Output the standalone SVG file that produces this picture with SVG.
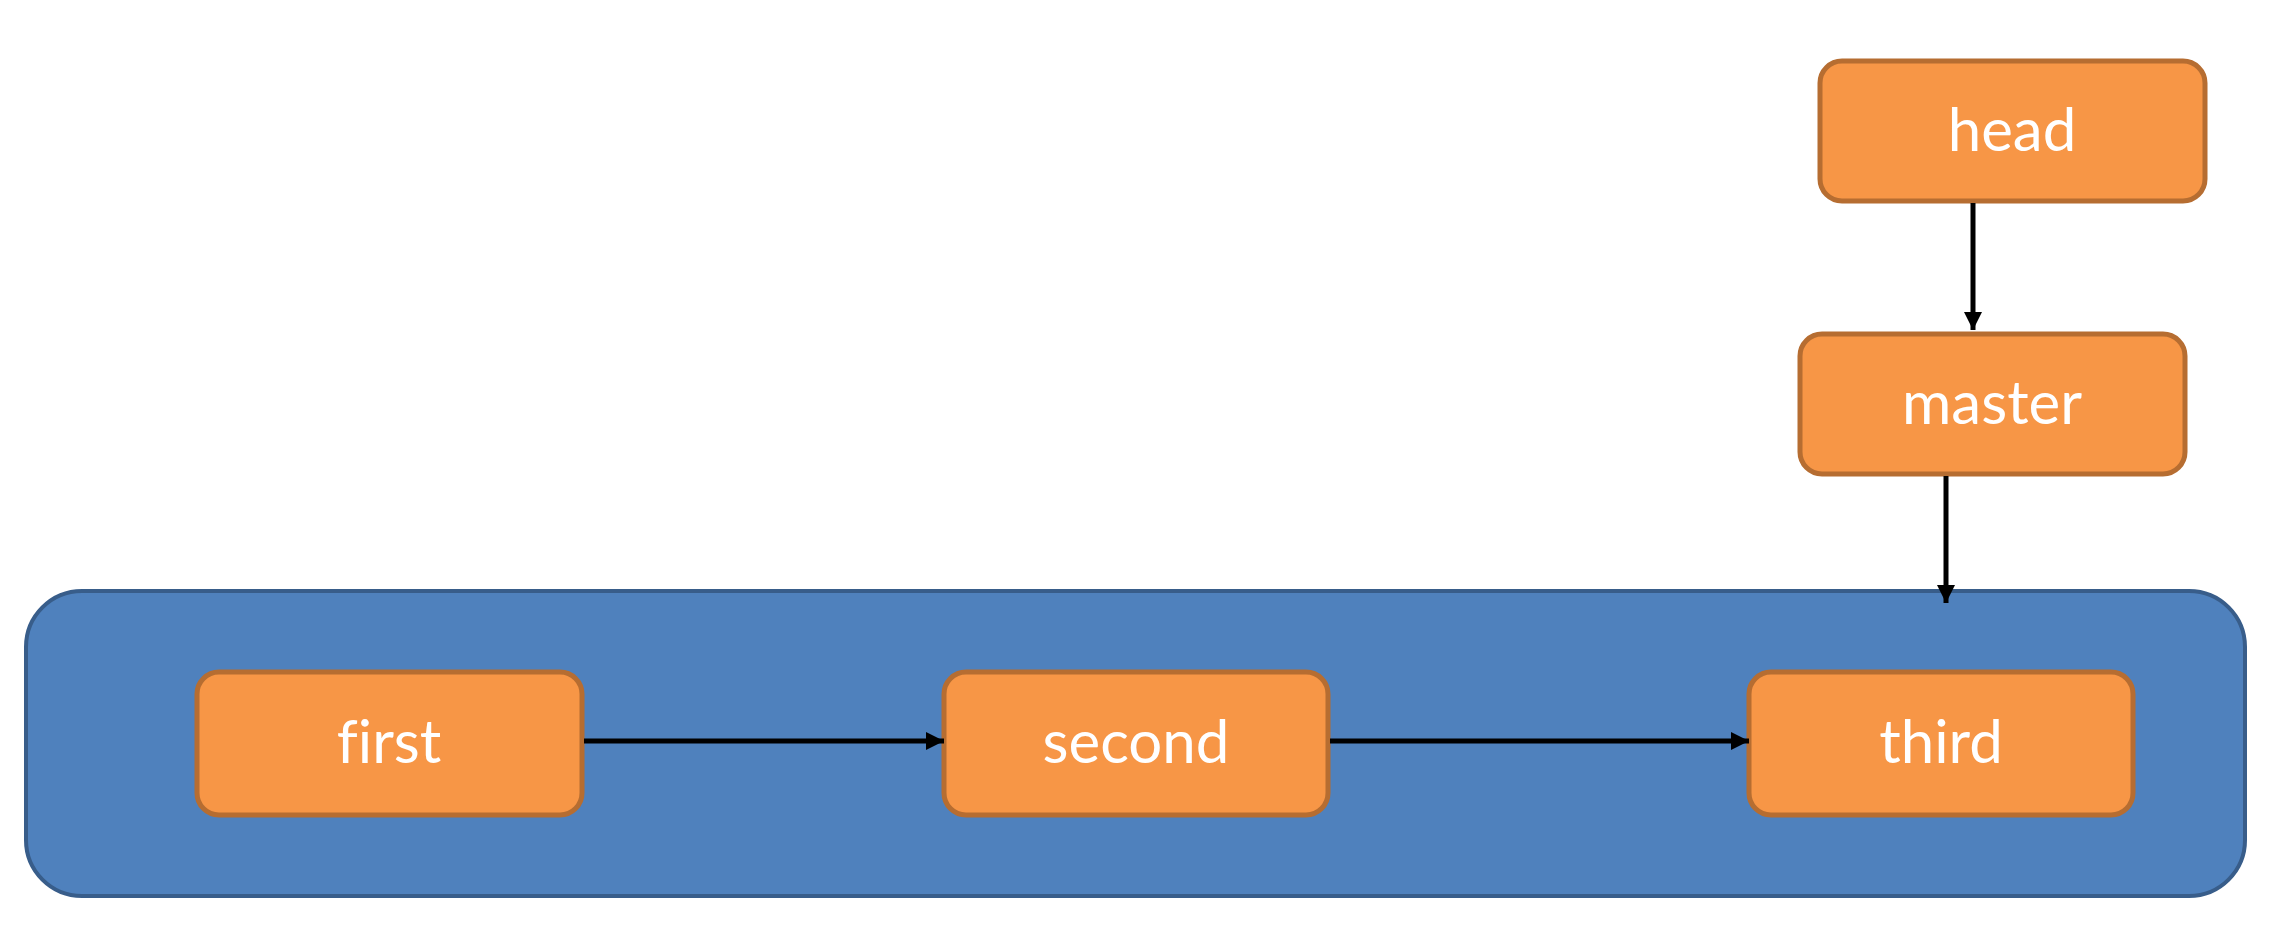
<svg xmlns="http://www.w3.org/2000/svg" width="2275" height="930" viewBox="0 0 2275 930">
<style>
.box{fill:#F79646;stroke:#B66D31;stroke-width:5}
.lbl{fill:#ffffff;font-family:Lato,"Open Sans","Liberation Sans",sans-serif;font-size:60px;text-anchor:middle;font-variant-ligatures:none;font-feature-settings:"liga" 0}
.con{stroke:#000;stroke-width:5;fill:none;marker-end:url(#ah)}
</style>
<defs>
<marker id="ah" viewBox="0 0 10 10" refX="10" refY="5" markerWidth="3.6" markerHeight="4" orient="auto" markerUnits="strokeWidth">
<path d="M0,0 L10,5 L0,10 z" fill="#000"/>
</marker>
</defs>
<rect width="2275" height="930" fill="#ffffff"/>
<g id="container">
<rect x="26" y="591" width="2219" height="305" rx="56" ry="56" fill="#4F81BD" stroke="#385D8A" stroke-width="4"/>
</g>
<g id="head">
<rect class="box" x="1820" y="61" width="385" height="140" rx="22"/>
<text class="lbl" x="2012" y="151">head</text>
</g>
<g id="master">
<rect class="box" x="1800" y="334" width="385" height="140" rx="22"/>
<text class="lbl" x="1992" y="424">master</text>
</g>
<g id="first">
<rect class="box" x="197" y="672" width="385" height="143" rx="22"/>
<text class="lbl" x="389" y="763">first</text>
</g>
<g id="second">
<rect class="box" x="944" y="672" width="384" height="143" rx="22"/>
<text class="lbl" x="1136" y="763">second</text>
</g>
<g id="third">
<rect class="box" x="1749" y="672" width="384" height="143" rx="22"/>
<text class="lbl" x="1941" y="763">third</text>
</g>
<g id="connectors">
<line class="con" x1="1973" y1="203" x2="1973" y2="330"/>
<line class="con" x1="1946" y1="476" x2="1946" y2="603"/>
<line class="con" x1="584" y1="741" x2="944" y2="741"/>
<line class="con" x1="1330" y1="741" x2="1749" y2="741"/>
</g>
</svg>
